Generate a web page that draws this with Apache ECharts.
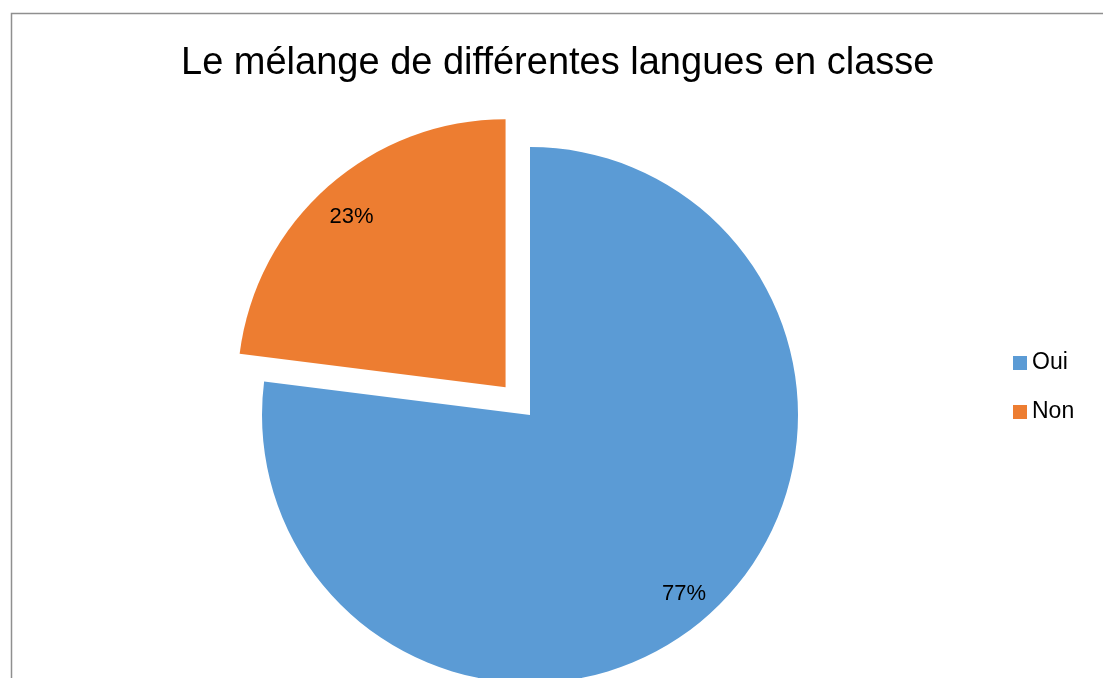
<!DOCTYPE html>
<html>
<head>
<meta charset="utf-8">
<script src="https://cdn.jsdelivr.net/npm/echarts@6/dist/echarts.min.js"></script>
<style>
html,body{margin:0;padding:0;background:#fff;}
#chart{width:1103px;height:678px;}
</style>
</head>
<body>
<div id="chart"></div>
<script>
var titleText = 'Le mélange de différentes langues en classe';
var categories = ['Oui', 'Non'];
var values = [77, 23];
var colors = ['#5B9BD5', '#ED7D31'];
var explodedIndex = 1;

var myChart = echarts.init(document.getElementById('chart'));

function buildData(withLabel) {
	var list = [];
	for (var i = 0; i < categories.length; i++) {
		list.push({
			name: categories[i],
			value: values[i],
			selected: i == explodedIndex,
			itemStyle: withLabel ? { color: 'rgba(0,0,0,0)' } : { color: colors[i] }
		});
	}
	return list;
}

var option = {
	animation: false,
	color: colors,
	title: {
		text: titleText,
		left: 176,
		top: 40,
		textStyle: {
			fontFamily: 'Liberation Sans',
			fontWeight: 'normal',
			fontSize: 38,
			color: '#000'
		}
	},
	legend: {
		orient: 'vertical',
		left: 1008,
		top: 346,
		icon: 'rect',
		itemWidth: 14,
		itemHeight: 14,
		itemGap: 25,
		data: categories,
		textStyle: {
			fontFamily: 'Liberation Sans',
			fontSize: 23,
			lineHeight: 24,
			color: '#000'
		}
	},
	graphic: [{
		type: 'rect',
		shape: { x: 11.5, y: 13.5, width: 1200, height: 800 },
		style: { fill: 'none', stroke: '#8f8f8f', lineWidth: 1.5 },
		silent: true
	}],
	series: [
		{
			name: 'pie',
			type: 'pie',
			center: [530, 415],
			radius: 268,
			startAngle: 90,
			clockwise: true,
			selectedMode: 'single',
			selectedOffset: 37,
			select: { itemStyle: { borderWidth: 0 } },
			emphasis: { scale: false },
			label: { show: false },
			labelLine: { show: false },
			data: buildData(false)
		},
		{
			// transparent ring only to place the percent labels near the rim
			name: 'labels',
			type: 'pie',
			silent: true,
			center: [530, 415],
			radius: [192, 268],
			startAngle: 90,
			clockwise: true,
			selectedMode: 'single',
			selectedOffset: 37,
			select: { itemStyle: { color: 'rgba(0,0,0,0)', borderWidth: 0 } },
			label: {
				show: true,
				position: 'inside',
				formatter: '{g| }\n{v|{c}%}',
				color: '#000',
				rich: {
					g: { fontSize: 8, lineHeight: 8 },
					v: { fontFamily: 'Liberation Sans', fontSize: 22, lineHeight: 24, color: '#000' }
				}
			},
			labelLine: { show: false },
			data: buildData(true)
		}
	]
};
myChart.setOption(option);
</script>
</body>
</html>
